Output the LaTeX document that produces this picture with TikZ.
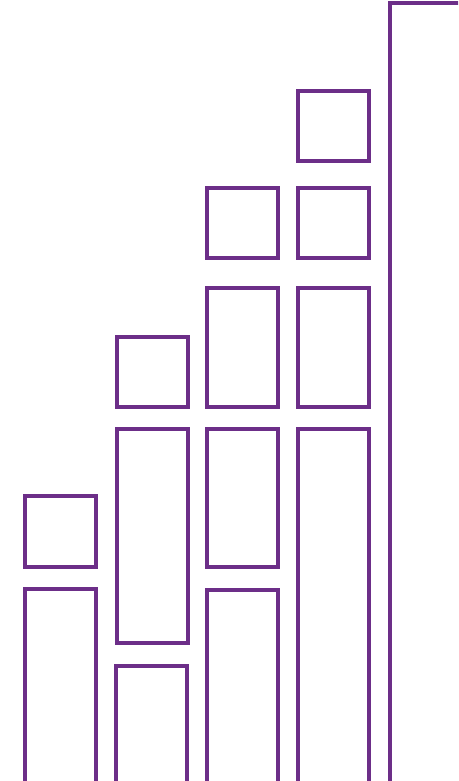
\documentclass[tikz,border=0pt]{standalone}
\usepackage{xcolor}
\usepackage{tikz}
\definecolor{barpurple}{RGB}{108,46,136}
\def\colW{71}
\newcommand{\cell}[3]{%
% #1 = left x, #2 = top y, #3 = bottom y
\draw ({#1},{#2}) rectangle ({#1+\colW},{#3});
}

\begin{document}
\begin{tikzpicture}[
    x=0.02cm, y=-0.02cm,
    line width=2.2pt,
    color=barpurple
]
\useasboundingbox (0,0) rectangle (458,781);
\clip (0,0) rectangle (458,781);

% column 1
\cell{25}{496}{567}
\cell{25}{589}{800}

% column 2
\cell{117}{337}{407}
\cell{117}{429}{643}
\cell{116}{666}{800}

% column 3
\cell{207}{188}{258}
\cell{207}{288}{407}
\cell{207}{429}{567}
\cell{207}{590}{800}

% column 4
\cell{298}{91}{161}
\cell{298}{188}{258}
\cell{298}{288}{407}
\cell{298}{429}{800}

% column 5
\draw (390,800) -- (390,3) -- (470,3);
\end{tikzpicture}
\end{document}
